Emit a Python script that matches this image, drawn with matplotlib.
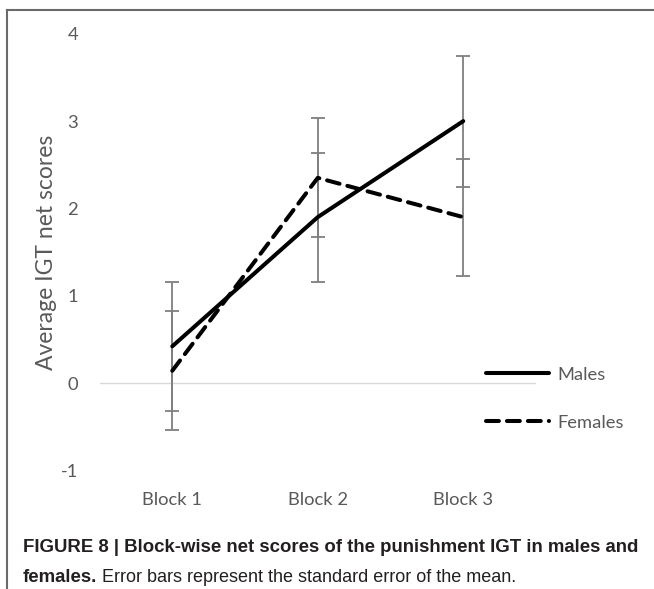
import matplotlib
matplotlib.use("Agg")
import matplotlib.pyplot as plt
from matplotlib.lines import Line2D

# Block-wise net scores (means and standard errors)
blocks = ["Block 1", "Block 2", "Block 3"]
males_mean = [0.42, 1.90, 3.00]
males_se = [0.74, 0.74, 0.75]
females_mean = [0.14, 2.35, 1.90]
females_se = [0.68, 0.68, 0.67]
y_ticks = [-1, 0, 1, 2, 3, 4]

caption_bold = "FIGURE 8 | Block-wise net scores of the punishment IGT in males and"
caption_bold2 = "females."
caption_rest = " Error bars represent the standard error of the mean."

W, H = 654, 589
fig = plt.figure(figsize=(W / 100, H / 100), dpi=100)
ax = fig.add_axes([99.5 / W, 1 - 470.3 / H, 436.5 / W, 436.5 / H])

chart_font = ["Lato", "DejaVu Sans"]
text_grey = "#595959"
bar_grey = "#7f7f7f"

x = list(range(len(blocks)))

ax.axhline(0, color="#d9d9d9", lw=1.0, zorder=1)

ax.errorbar(x, males_mean, yerr=males_se, fmt="none", ecolor=bar_grey,
            elinewidth=1.3, capsize=4.8, capthick=1.3, zorder=2)
ax.errorbar(x, females_mean, yerr=females_se, fmt="none", ecolor=bar_grey,
            elinewidth=1.3, capsize=4.8, capthick=1.3, zorder=2)

ax.plot(x, males_mean, color="black", lw=2.9, solid_capstyle="round",
        label="Males", zorder=3)
ax.plot(x, females_mean, color="black", lw=2.9, dashes=(3.2, 2),
        dash_capstyle="round", label="Females", zorder=3)

ax.set_xlim(-0.5, 2.5)
ax.set_ylim(-1, 4)
ax.set_xticks(x)
ax.set_xticklabels(blocks)
ax.set_yticks(y_ticks)
ax.set_yticklabels([str(v) for v in y_ticks])
for side in ax.spines.values():
    side.set_visible(False)
ax.tick_params(axis="both", length=0, colors=text_grey, labelsize=13.2)
ax.tick_params(axis="y", pad=15.5)
ax.tick_params(axis="x", pad=15.5)
for lab in ax.get_xticklabels() + ax.get_yticklabels():
    lab.set_family(chart_font)

ax.set_ylabel("Average IGT net scores", family=chart_font, fontsize=16.5,
              color=text_grey, labelpad=3)

leg = ax.legend(loc="center left", bbox_to_anchor=(0.869, 0.164),
                frameon=False, handlelength=3.45, handletextpad=0.45,
                labelspacing=1.75, borderaxespad=0,
                prop={"family": chart_font, "size": 13.2})
for t in leg.get_texts():
    t.set_color(text_grey)

# Frame around the figure panel
frame_col = "#6a6a6a"
fig.add_artist(Line2D([7 / W, 7 / W], [0, 1 - 10 / H], color=frame_col, lw=1.5,
                      transform=fig.transFigure))
fig.add_artist(Line2D([7 / W, 1], [1 - 10 / H, 1 - 10 / H], color=frame_col, lw=1.5,
                      transform=fig.transFigure))

cap_font = ["Liberation Sans", "DejaVu Sans"]
cap_col = "#231f20"
fig.text(23 / W, 1 - 548 / H, caption_bold, family=cap_font, fontsize=13.4,
         weight="bold", color=cap_col, va="center", ha="left")
t2 = fig.text(23 / W, 1 - 578 / H, caption_bold2, family=cap_font, fontsize=13.4,
              weight="bold", color=cap_col, va="center", ha="left")
fig.canvas.draw()
bb = t2.get_window_extent()
fig.text(bb.x1 / W, 1 - 578 / H, caption_rest, family=cap_font, fontsize=13,
         color=cap_col, va="center", ha="left")

fig.savefig("out.png", dpi=100)
